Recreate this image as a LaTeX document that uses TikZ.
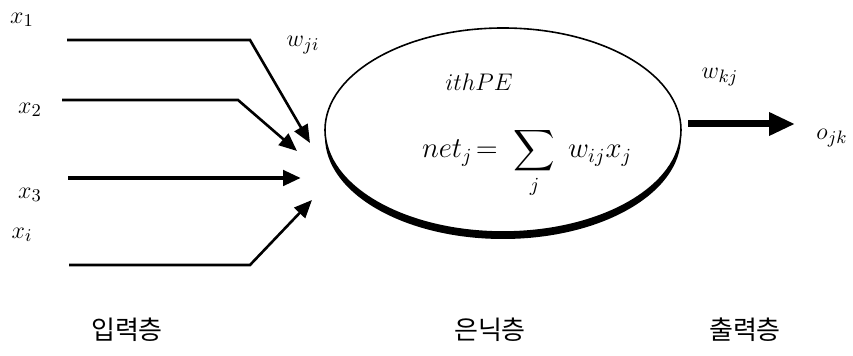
\documentclass[tikz,border=0pt]{standalone}
\usepackage{amsmath}
\usepackage{fontspec}
\newfontfamily\kfont{Noto Sans CJK KR}
\usetikzlibrary{arrows.meta,shadows,shapes.geometric}

\begin{document}
\begin{tikzpicture}[
    x=0.5pt, y=-0.5pt,
    lbl/.style={font=\fontsize{13}{15}\selectfont, inner sep=0pt},
    layer/.style={font=\kfont\fontsize{13}{15}\selectfont, inner sep=0pt},
    pe/.style={draw, line width=0.8pt, fill=white, ellipse, minimum width=178pt, minimum height=102pt, drop shadow={shadow xshift=0pt, shadow yshift=-3.5pt, fill=black, opacity=1}},
    inp/.style={-{Triangle[length=9pt, width=7.5pt]}, line width=1.3pt},
    outp/.style={-{Triangle[length=13pt, width=11pt]}, line width=3.5pt}
]
    \useasboundingbox (0,0) rectangle (853,356);

    % hidden layer unit
    \node[pe] (unit) at (503,130) {};
    \node[lbl] (title) at (479,82) {$ithPE$};
    \node[font=\Large, inner sep=0pt] (net) at (527,163) {$net_j\!=\;\displaystyle\sum_j\;w_{ij}x_j$};

    % inputs
    \node[lbl] (x1) at (22,20) {$x_1$};
    \node[lbl] (x2) at (30,110) {$x_2$};
    \node[lbl] (x3) at (30,195) {$x_3$};
    \node[lbl] (xi) at (22,235) {$x_i$};
    \node[lbl] (wji) at (303,45) {$w_{ji}$};

    \coordinate (s1) at (67,40);   \coordinate (b1) at (250,40);  \coordinate (t1) at (310,143);
    \coordinate (s2) at (62,100);  \coordinate (b2) at (238,100); \coordinate (t2) at (297,151);
    \coordinate (s3) at (68,178);  \coordinate (t3) at (301,178);
    \coordinate (s4) at (69,265);  \coordinate (b4) at (250,265); \coordinate (t4) at (312,200);

    \draw[inp] (s1) -- (b1) -- (t1);
    \draw[inp] (s2) -- (b2) -- (t2);
    \draw[inp, line width=2.4pt] (s3) -- (t3);
    \draw[inp] (s4) -- (b4) -- (t4);

    % output
    \node[lbl] (wkj) at (720,77) {$w_{kj}$};
    \node[lbl] (ojk) at (832,138) {$o_{jk}$};
    \coordinate (os) at (688,124);
    \coordinate (ot) at (795,124);
    \draw[outp] (os) -- (ot);

    % layer names
    \node[layer] (lin) at (127,330) {입력층};
    \node[layer] (lhid) at (490,330) {은닉층};
    \node[layer] (lout) at (745,330) {출력층};
\end{tikzpicture}
\end{document}
